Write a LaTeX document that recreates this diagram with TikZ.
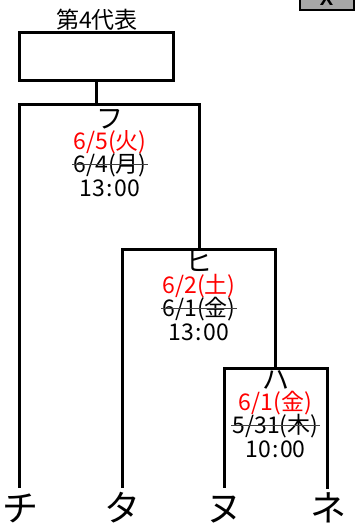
\documentclass[tikz,border=0pt]{standalone}
\usepackage{fontspec}
\setmainfont{Noto Sans CJK JP}
\newfontfamily\btnfont{Liberation Sans}
\tikzset{
  wire/.style={line width=3pt, line cap=rect},
  txt/.style={font=\fontsize{23}{23}\selectfont, inner sep=0pt, anchor=base},
  kana/.style={font=\fontsize{27}{27}\selectfont, inner sep=0pt, anchor=base, text depth=0pt, text height=19pt},
  newdate/.style={txt, text=red},
  olddate/.style={txt},
  strike/.style={line width=1pt, draw=black!75, shorten <=-1pt, shorten >=-1pt},
  team/.style={font=\fontsize{36}{36}\selectfont, anchor=base, text height=28pt, text depth=0pt, inner xsep=0pt, inner ysep=6pt},
  repbox/.style={draw, line width=3pt, minimum width=154pt, minimum height=48pt, inner sep=0pt},
}
\begin{document}
\begin{tikzpicture}[x=1pt, y=-1pt]
\useasboundingbox (0,0) rectangle (360,525);
% gray button at top right (cut off)
\draw[fill=black!35, line width=2pt] (300,-6) rectangle (354,9.5);
\node[font=\btnfont\bfseries\fontsize{20}{20}\selectfont, anchor=base, inner sep=0pt] (btn) at (326.5,5) {X};

% title and representative box
\node[txt] (title) at (97,28) {第4代表};
\node[repbox] (rep) at (96,56) {};

% bracket coordinates
\coordinate (fuM) at (96,104);
\coordinate (hiM) at (199,249);
\coordinate (haM) at (275,368);

% team labels
\node[team] (chi) at (20,521) {チ};
\node[team] (ta)  at (122,521) {タ};
\node[team] (nu)  at (224,521) {ヌ};
\node[team] (ne)  at (328,521) {ネ};

% connectors
\draw[wire] (rep.south) -- (fuM);
\draw[wire] (chi.north -| 19,0) |- (fuM) -| (hiM);
\draw[wire] (ta.north) |- (hiM) -| (haM);
\draw[wire] (nu.north) |- (haM) -| (327,487);

% match Fu
\node[kana] (fuName) at (110,128.5) {フ};
\node[newdate] (fuNew) at (110,149) {6/5(火)};
\node[olddate] (fuOld) at (110,172) {6/4(月)};
\draw[strike] (fuOld.west) -- (fuOld.east);
\node[txt] (fuTime) at (110,196) {13\hspace{1.5pt}:\hspace{1.5pt}00};

% match Hi
\node[kana] (hiName) at (199,271.5) {ヒ};
\node[newdate] (hiNew) at (199,293) {6/2(土)};
\node[olddate] (hiOld) at (199,316) {6/1(金)};
\draw[strike] (hiOld.west) -- (hiOld.east);
\node[txt] (hiTime) at (199,340) {13\hspace{1.5pt}:\hspace{1.5pt}00};

% match Ha
\node[kana] (haName) at (276,389.5) {ハ};
\node[newdate] (haNew) at (275.5,410) {6/1(金)};
\node[olddate] (haOld) at (275.5,433) {5/31(木)};
\draw[strike] (haOld.west) -- (haOld.east);
\node[txt] (haTime) at (275.5,457) {10\hspace{1.5pt}:\hspace{1.5pt}00};
\end{tikzpicture}
\end{document}
